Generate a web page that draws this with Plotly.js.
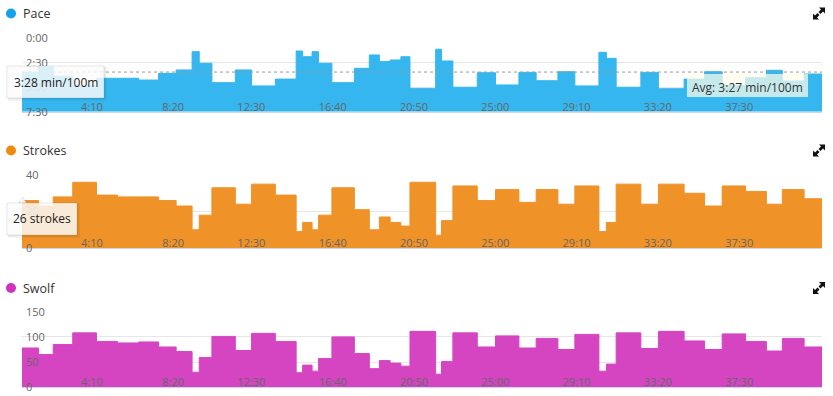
<!DOCTYPE html>
<html>
<head>
<meta charset="utf-8">
<script src="https://cdn.plot.ly/plotly-3.0.1.min.js"></script>
<style>
  html, body { margin: 0; padding: 0; background: #ffffff; }
  #chart { width: 833px; height: 396px; }
</style>
</head>
<body>
<div id="chart"></div>
<script>
// ---------------- DATA ----------------
// start time of every pool length, seconds of elapsed time
const lengthStart = [0, 51, 96, 156, 229, 294, 359, 420, 474, 523, 545, 584, 656, 706, 779,
  843, 863, 892, 912, 953, 1022, 1068, 1099, 1132, 1165, 1193, 1272, 1290, 1325, 1400,
  1456, 1528, 1581, 1648, 1700, 1774, 1797, 1827, 1903, 1957, 2036, 2099, 2153, 2225,
  2289, 2338, 2405];
const sessionEnd = 2460;

// pace per length, seconds per 100 m
const paceSec = [208, 176, 232, 290, 245, 245, 256, 215, 194, 82, 153, 272, 194, 292, 250,
  78, 113, 82, 153, 272, 184, 102, 143, 133, 113, 307, 67, 139, 300, 211,
  286, 209, 260, 205, 292, 86, 123, 300, 209, 309, 250, 205, 290, 242,
  196, 262, 219];

// strokes per length
const strokes = [26, 23, 28, 36, 29, 28, 28, 26, 23, 10, 18, 33, 24, 35, 29,
  9, 14, 10, 18, 33, 21, 10, 17, 14, 12, 36, 7, 15, 34, 26,
  32, 25, 32, 24, 34, 9, 14, 35, 24, 35, 30, 23, 34, 31,
  24, 32, 27];

// swolf per length
const swolf = [78, 65, 85, 108, 91, 88, 90, 80, 71, 30, 59, 101, 73, 107, 91,
  29, 44, 32, 57, 100, 67, 37, 53, 48, 42, 111, 26, 51, 108, 80,
  102, 78, 97, 75, 105, 32, 46, 108, 77, 111, 92, 75, 106, 91,
  72, 97, 80];

const avgPaceSec = 207;

// axis ticks
const timeTickVals = [250, 500, 750, 1000, 1250, 1500, 1750, 2000, 2250];
const timeTickText = ['4:10', '8:20', '12:30', '16:40', '20:50', '25:00', '29:10', '33:20', '37:30'];
const paceTickVals = [0, 150, 300, 450];
const paceTickText = ['0:00', '2:30', '5:00', '7:30'];
const strokeTickVals = [0, 20, 40];
const swolfTickVals = [0, 50, 100, 150];

const panelNames = ['Pace', 'Strokes', 'Swolf'];
const tooltipPace = '3:28 min/100m';
const tooltipStrokes = '26 strokes';
const avgLabel = 'Avg: 3:27 min/100m';

// ---------------- STYLE ----------------
const W = 833, H = 396, ML = 22, MR = 11;
const PW = W - ML - MR;
const PX = x => (x - ML) / PW;
const PY = y => 1 - y / H;

const C_PACE = '#35b6ee', C_STROKE = '#ef9228', C_SWOLF = '#d545c2';
const DOT = ['#12a3ea', '#ee8a10', '#cf32bd'];
const FONT = '"Open Sans", "Noto Sans", sans-serif';
const LBL = { family: FONT, size: 11, color: '#666666' };

// step series: repeat last value at the session end
const stepX = lengthStart.concat([sessionEnd]);
const lastOf = a => a.concat([a[a.length - 1]]);

const traces = [
  { x: [0, sessionEnd], y: [paceTickVals[paceTickVals.length - 1], paceTickVals[paceTickVals.length - 1]],
    xaxis: 'x', yaxis: 'y', mode: 'lines', line: { width: 0, color: 'rgba(0,0,0,0)' },
    hoverinfo: 'skip', showlegend: false },
  { x: stepX, y: lastOf(paceSec), xaxis: 'x', yaxis: 'y', mode: 'lines',
    line: { shape: 'hv', width: 1, color: C_PACE }, fill: 'tonexty', fillcolor: C_PACE,
    showlegend: false, hoverinfo: 'skip' },
  { x: stepX, y: lastOf(strokes), xaxis: 'x2', yaxis: 'y2', mode: 'lines',
    line: { shape: 'hv', width: 1, color: C_STROKE }, fill: 'tozeroy', fillcolor: C_STROKE,
    showlegend: false, hoverinfo: 'skip' },
  { x: stepX, y: lastOf(swolf), xaxis: 'x3', yaxis: 'y3', mode: 'lines',
    line: { shape: 'hv', width: 1, color: C_SWOLF }, fill: 'tozeroy', fillcolor: C_SWOLF,
    showlegend: false, hoverinfo: 'skip' }
];

function xAx(anchor) {
  return {
    anchor: anchor, domain: [0, 1], range: [0, sessionEnd], fixedrange: true,
    tickmode: 'array', tickvals: timeTickVals, ticktext: timeTickText,
    ticklabelposition: 'inside left', ticklabeloverflow: 'allow', ticks: '',
    ticklabelstandoff: -5,
    showgrid: false, zeroline: false, showline: true, linecolor: '#ccd6eb', linewidth: 1,
    tickfont: LBL
  };
}
function yAx(anchor, domain, range, vals, text) {
  const a = {
    anchor: anchor, domain: domain, range: range, fixedrange: true,
    tickmode: 'array', tickvals: vals,
    ticklabelposition: 'inside', ticklabeloverflow: 'allow', ticks: '',
    ticklabelstandoff: 1,
    showgrid: true, gridcolor: '#e6e6e6', gridwidth: 1, zeroline: false, showline: false,
    tickfont: LBL
  };
  if (text) a.ticktext = text;
  return a;
}

const layout = {
  width: W, height: H,
  margin: { l: ML, r: MR, t: 0, b: 0, pad: 0 },
  paper_bgcolor: '#ffffff', plot_bgcolor: 'rgba(0,0,0,0)',
  showlegend: false, hovermode: false,
  font: { family: FONT, color: '#333333' },
  xaxis: xAx('y'),
  xaxis2: xAx('y2'),
  xaxis3: xAx('y3'),
  yaxis: yAx('x', [PY(111.7), PY(38.3)], [paceTickVals[paceTickVals.length - 1], paceTickVals[0]], paceTickVals, paceTickText),
  yaxis2: yAx('x2', [PY(248), PY(175)], [strokeTickVals[0], strokeTickVals[strokeTickVals.length - 1]], strokeTickVals),
  yaxis3: yAx('x3', [PY(387.3), PY(311.7)], [swolfTickVals[0], swolfTickVals[swolfTickVals.length - 1]], swolfTickVals),
  shapes: [],
  annotations: []
};

// average pace dashed line
layout.shapes.push({ type: 'line', xref: 'x', yref: 'y', x0: 0, x1: sessionEnd,
  y0: avgPaceSec, y1: avgPaceSec, layer: 'above',
  line: { color: '#9a9a9a', width: 1, dash: '3px,3px' } });

// panel titles, dots, expand icons
const titleY = [13.5, 150.5, 288];
function expandIcon(cx, cy) {
  const p = (x, y) => `${PX(cx + x)} ${PY(cy + y)}`;
  const tr = `M ${p(6, -6)} L ${p(6, 0)} L ${p(4, -2)} L ${p(1.5, 0.5)} L ${p(-0.5, -1.5)} L ${p(2, -4)} L ${p(0, -6)} Z`;
  const bl = `M ${p(-6, 6)} L ${p(-6, 0)} L ${p(-4, 2)} L ${p(-1.5, -0.5)} L ${p(0.5, 1.5)} L ${p(-2, 4)} L ${p(0, 6)} Z`;
  [tr, bl].forEach(path => layout.shapes.push({ type: 'path', xref: 'paper', yref: 'paper',
    path: path, fillcolor: '#111111', line: { width: 0 } }));
}
panelNames.forEach((name, i) => {
  const ty = titleY[i];
  layout.shapes.push({ type: 'circle', xref: 'paper', yref: 'paper',
    x0: PX(6), x1: PX(16), y0: PY(ty - 5), y1: PY(ty + 5),
    fillcolor: DOT[i], line: { width: 0 } });
  layout.annotations.push({ xref: 'paper', yref: 'paper', x: PX(20.5), y: PY(ty),
    xanchor: 'left', yanchor: 'middle', showarrow: false, text: name,
    font: { family: FONT, size: 12.5, color: '#333333' } });
  expandIcon(819, ty);
});

// avg label box
layout.shapes.push({ type: 'rect', xref: 'paper', yref: 'paper', layer: 'above',
  x0: PX(687), x1: PX(808), y0: PY(97), y1: PY(74),
  fillcolor: 'rgba(255,253,236,0.72)', line: { width: 0 } });
layout.annotations.push({ xref: 'paper', yref: 'paper', x: PX(747.5), y: PY(87.5),
  xanchor: 'center', yanchor: 'middle', showarrow: false, text: avgLabel,
  font: { family: FONT, size: 12, color: '#333333' } });

// tooltips
function tooltip(x0, y0, x1, y1, text, pointer) {
  layout.shapes.push({ type: 'rect', xref: 'paper', yref: 'paper', layer: 'above',
    x0: PX(x0 + 1), x1: PX(x1 + 2.5), y0: PY(y1 + 2.5), y1: PY(y0 + 1),
    fillcolor: 'rgba(0,0,0,0.07)', line: { width: 0 } });
  if (pointer) {
    const [ax, ay] = pointer;
    layout.shapes.push({ type: 'path', xref: 'paper', yref: 'paper', layer: 'above',
      path: `M ${PX(ax - 4)} ${PY(y0)} L ${PX(ax)} ${PY(ay)} L ${PX(ax + 4)} ${PY(y0)} Z`,
      fillcolor: 'rgba(255,255,255,0.88)', line: { color: 'rgba(0,0,0,0.12)', width: 1 } });
  }
  layout.shapes.push({ type: 'rect', xref: 'paper', yref: 'paper', layer: 'above',
    x0: PX(x0), x1: PX(x1), y0: PY(y1), y1: PY(y0),
    fillcolor: 'rgba(255,255,255,0.82)', line: { color: 'rgba(0,0,0,0.10)', width: 1 } });
  layout.annotations.push({ xref: 'paper', yref: 'paper', x: PX((x0 + x1) / 2), y: PY((y0 + y1) / 2),
    xanchor: 'center', yanchor: 'middle', showarrow: false, text: text,
    font: { family: FONT, size: 12, color: '#222222' } });
}
tooltip(7, 66, 104, 98, tooltipPace, null);
tooltip(7, 203, 77, 235, tooltipStrokes, [22.7, 197.5]);

Plotly.newPlot('chart', traces, layout, { displayModeBar: false, staticPlot: true });
</script>
</body>
</html>
